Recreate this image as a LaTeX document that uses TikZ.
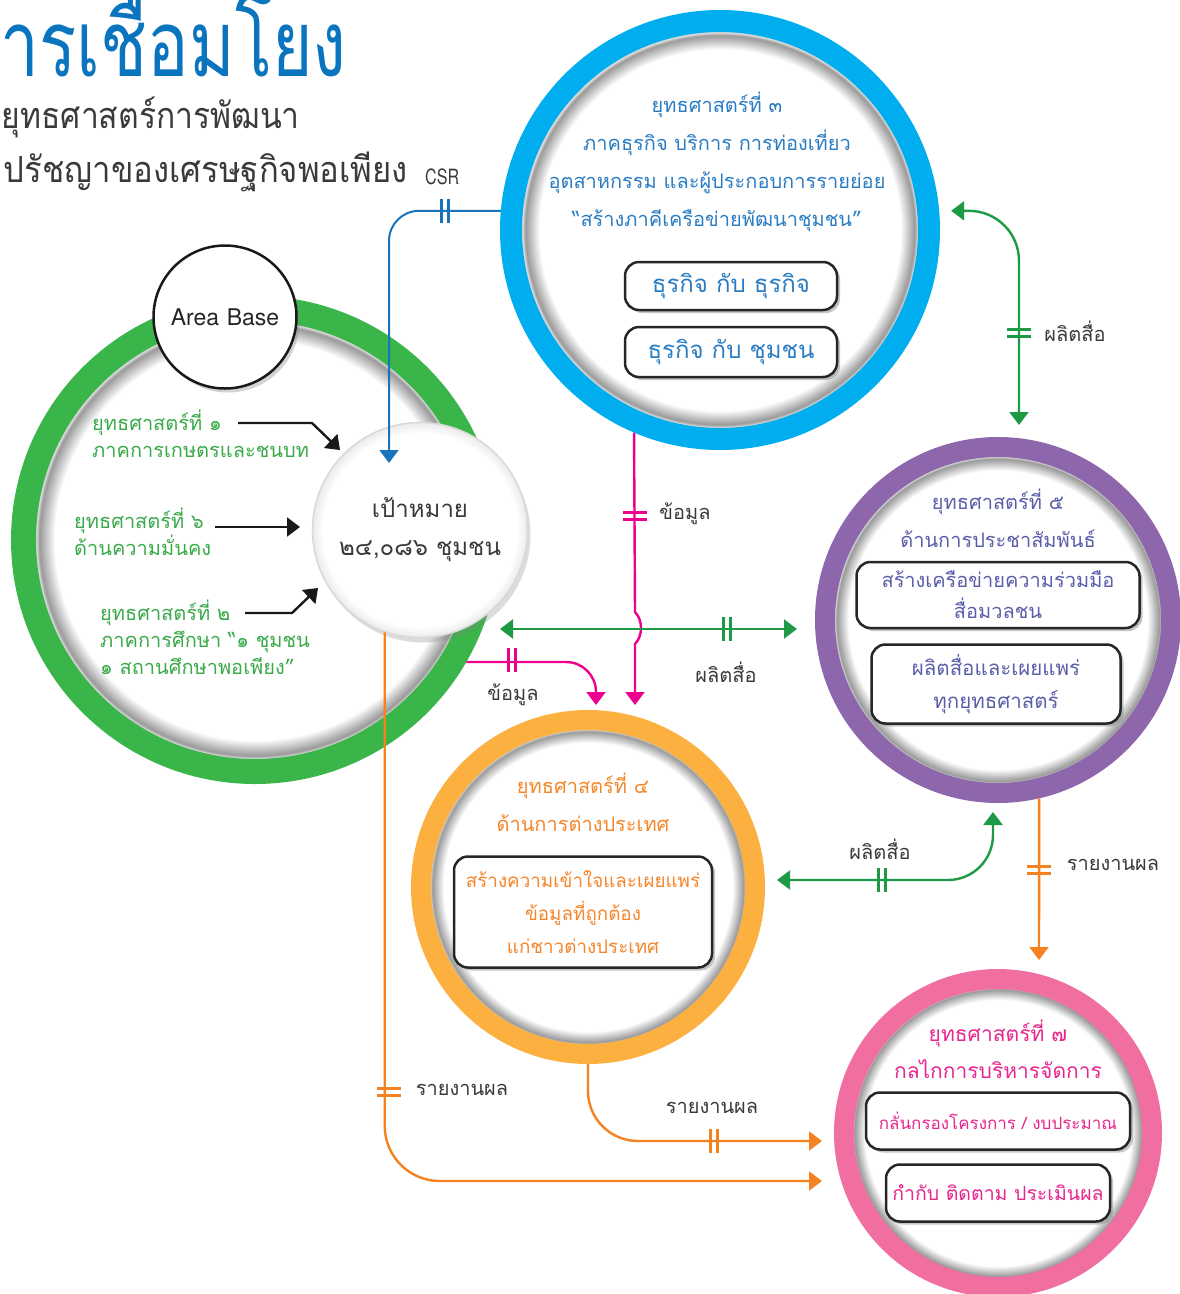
\documentclass[tikz,border=0pt]{standalone}
\usepackage{fontspec}
\usetikzlibrary{arrows.meta,shadows,calc}
\newfontfamily\thai[Script=Thai]{Loma}
\newfontfamily\heros{TeX Gyre Heros}
\definecolor{cgreen}{HTML}{3AB54A}
\definecolor{cgreenarr}{HTML}{1E9A47}
\definecolor{cgreentxt}{HTML}{3AAA4A}
\definecolor{cblue}{HTML}{00AEEF}
\definecolor{cbluetxt}{HTML}{2B7DC3}
\definecolor{cblueln}{HTML}{1873BA}
\definecolor{ctitle}{HTML}{0A74BE}
\definecolor{cpurple}{HTML}{8E66AC}
\definecolor{cpurpletxt}{HTML}{5B5EA9}
\definecolor{corange}{HTML}{FBB040}
\definecolor{corangetxt}{HTML}{F5862A}
\definecolor{corangeln}{HTML}{F58220}
\definecolor{cpink}{HTML}{F06EA0}
\definecolor{cpinktxt}{HTML}{E8268F}
\definecolor{cpinkln}{HTML}{EC008C}
\definecolor{cgraytxt}{HTML}{3A3A3A}
\pgfdeclareradialshading{vign}{\pgfpoint{0bp}{0bp}}{color(0bp)=(white); color(21.6bp)=(white); color(23.3bp)=(black!40); color(23.6bp)=(black!15); color(25bp)=(black!15); color(50bp)=(black!15)}
\pgfdeclareradialshading{tgtshade}{\pgfpoint{0bp}{0bp}}{color(0bp)=(white); color(22.5bp)=(white); color(25bp)=(black!8); color(50bp)=(black!8)}
\tikzset{
  ring/.style={circle, inner sep=0pt, shading=vign},
  th/.style={font=\thai\fontsize{20}{#1}\selectfont, align=center, inner sep=0pt},
  th/.default=38,
  lbl/.style={font=\thai\fontsize{20}{24}\selectfont, text=cgraytxt, inner sep=0pt},
  gtxt/.style={font=\thai\fontsize{20}{27}\selectfont, text=cgreentxt, align=left, anchor=west, inner sep=0pt},
  boxx/.style={draw=black!85, line width=2.5pt, rounded corners=14pt, fill=white, inner sep=0pt,
    drop shadow={opacity=0.45, shadow xshift=3pt, shadow yshift=-3pt}},
  conn/.style={line width=2.4pt},
  arr/.style={-{Triangle[width=19pt,length=13pt]}},
  darr/.style={{Triangle[width=19pt,length=13pt]}-{Triangle[width=19pt,length=13pt]}},
  vbars/.pic={\draw[line width=2.4pt] (-3.5,-12)--(-3.5,12) (3.5,-12)--(3.5,12);},
  hbars/.pic={\draw[line width=2.4pt] (-12,-3.5)--(12,-3.5) (-12,3.5)--(12,3.5);},
}
\begin{document}
\begin{tikzpicture}[x=1pt,y=-1pt]
\useasboundingbox (0,0) rectangle (1180,1294);
\clip (0,0) rectangle (1180,1294);
% title
\node[font=\thai\fontsize{92}{92}\selectfont, text=ctitle, anchor=base east, inner sep=0pt, text depth=0pt] (title) at (347,76) {\resizebox{388pt}{\height}{การเชื่อมโยง}};
\node[font=\thai\fontsize{36}{36}\selectfont, text=cgraytxt, anchor=east, inner sep=0pt] (sub1) at (300,117) {\resizebox{298pt}{\height}{ยุทธศาสตร์การพัฒนา}};
\node[font=\thai\fontsize{36}{36}\selectfont, text=cgraytxt, anchor=east, inner sep=0pt] (sub2) at (408,172) {\resizebox{404pt}{\height}{ปรัชญาของเศรษฐกิจพอเพียง}};
\node[font=\heros\fontsize{21}{21}\selectfont, text=cgraytxt, anchor=west, inner sep=0pt] (csr) at (425,177) {\resizebox{34pt}{\height}{CSR}};

% big circles
\node[ring, draw=cgreen, line width=25pt, minimum size=463pt] (s0) at (255,540) {};
\node[circle, draw=black!90, line width=2.5pt, fill=white, minimum size=143pt, inner sep=0pt,
  drop shadow={opacity=0.35, shadow xshift=3pt, shadow yshift=-4pt},
  font=\heros\fontsize{23}{23}\selectfont, text=black!85] (area) at (225,317) {Area\,\,Base};
\node[circle, draw=black!15, line width=1.5pt, shading=tgtshade, minimum size=215pt, inner sep=0pt,
  drop shadow={opacity=0.28, shadow xshift=3pt, shadow yshift=-5pt}] (tgt) at (420,530) {};
\node[ring, draw=cblue, line width=22pt, minimum size=418pt] (s3) at (720,230) {};
\node[ring, draw=cpurple, line width=20pt, minimum size=346pt] (s5) at (998,620) {};
\node[ring, draw=corange, line width=20pt, minimum size=334pt] (s4) at (588,887) {};
\node[ring, draw=cpink, line width=20pt, minimum size=308pt] (s7) at (998,1133) {};

% target text
\node[font=\thai\fontsize{24}{38}\selectfont, text=cgraytxt, align=center, inner sep=0pt] (tgttxt) at (420,530) {เป้าหมาย\\๒๔,๐๘๖ ชุมชน};

% green texts
\node[gtxt] (g1) at (92,434) {ยุทธศาสตร์ที่ ๑\\ภาคการเกษตรและชนบท};
\node[gtxt] (g6) at (74,532) {ยุทธศาสตร์ที่ ๖\\ด้านความมั่นคง};
\node[gtxt] (g2) at (100,637) {ยุทธศาสตร์ที่ ๒\\ภาคการศึกษา “๑ ชุมชน\\๑ สถานศึกษาพอเพียง”};

% blue circle texts
\node[th, text=cbluetxt] (s3t) at (717,162) {ยุทธศาสตร์ที่ ๓\\ภาคธุรกิจ บริการ การท่องเที่ยว\\อุตสาหกรรม และผู้ประกอบการรายย่อย\\“สร้างภาคีเครือข่ายพัฒนาชุมชน”};
\node[boxx, minimum width=212pt, minimum height=48pt, font=\thai\fontsize{24}{28}\selectfont, text=cbluetxt] (b31) at (731,286) {ธุรกิจ กับ ธุรกิจ};
\node[boxx, minimum width=212pt, minimum height=50pt, font=\thai\fontsize{24}{28}\selectfont, text=cbluetxt] (b32) at (731,352) {ธุรกิจ กับ ชุมชน};

% purple
\node[th, text=cpurpletxt] (s5t) at (998,518) {ยุทธศาสตร์ที่ ๕\\ด้านการประชาสัมพันธ์};
\node[boxx, minimum width=283pt, minimum height=66pt, font=\thai\fontsize{20}{31}\selectfont, text=cpurpletxt, align=center] (b51) at (998,595) {สร้างเครือข่ายความร่วมมือ\\สื่อมวลชน};
\node[boxx, minimum width=249pt, minimum height=79pt, font=\thai\fontsize{20.5}{33}\selectfont, text=cpurpletxt, align=center] (b52) at (996,684) {ผลิตสื่อและเผยแพร่\\ทุกยุทธศาสตร์};

% orange
\node[th, text=corangetxt] (s4t) at (583,802) {ยุทธศาสตร์ที่ ๔\\ด้านการต่างประเทศ};
\node[boxx, minimum width=258pt, minimum height=111pt, font=\thai\fontsize{18.8}{33}\selectfont, text=corangetxt, align=center] (b41) at (583,912) {สร้างความเข้าใจและเผยแพร่\\ข้อมูลที่ถูกต้อง\\แก่ชาวต่างประเทศ};

% pink
\node[font=\thai\fontsize{21}{37}\selectfont, text=cpinktxt, align=center, inner sep=0pt] (s7t) at (998,1049) {ยุทธศาสตร์ที่ ๗\\กลไกการบริหารจัดการ};
\node[boxx, minimum width=264pt, minimum height=57pt, font=\thai\fontsize{17}{22}\selectfont, text=cpinktxt] (b71) at (998,1121) {กลั่นกรองโครงการ / งบประมาณ};
\node[boxx, minimum width=224pt, minimum height=57pt, font=\thai\fontsize{19.5}{24}\selectfont, text=cpinktxt] (b72) at (998,1193) {กำกับ ติดตาม ประเมินผล};

% free-end coordinates
\coordinate (bE) at (389,463);
\coordinate (p1E) at (635,705);
\coordinate (p2E) at (596,705);
\coordinate (gL) at (500,629);
\coordinate (gR) at (797,629);
\coordinate (gTA) at ($(s3.5)+(12,0)$);
\coordinate (gTB) at (1019,425);
\coordinate (gBA) at (993,812);
\coordinate (gBB) at (777,880);
\coordinate (oRE) at (1039,960);
\coordinate (o4E) at (822,1141);
\coordinate (oLE) at (822,1181);
\coordinate (k1S) at (238,423);
\coordinate (k1E) at (340,450);
\coordinate (k6S) at (215,527);
\coordinate (k6E) at (300,527);
\coordinate (k2S) at (245,613);
\coordinate (k2E) at (318,588);

% connectors
\draw[conn, cblueln, arr, line width=2pt, rounded corners=30pt] (s3.175) -| (bE);
\pic[color=cblueln] at (445,211) {vbars};

\draw[conn, cpinkln, arr] (s3.247) -- (635,612) .. controls (643,620) and (643,636) .. (635,644) -- (p1E);
\pic[color=cpinkln] at (635,516) {hbars};
\node[lbl] (lp1) at (685,514) {ข้อมูล};

\draw[conn, cgreenarr, darr] (gL) -- (gR);
\pic[color=cgreenarr] at (727,629) {vbars};
\node[lbl] (lg1) at (726,672) {ผลิตสื่อ};

\draw[conn, cpinkln, arr, rounded corners=30pt] (s0.-30) -| (p2E);
\pic[color=cpinkln] at (512,660) {vbars};
\node[lbl] (lp2) at (513,695) {ข้อมูล};

\draw[conn, cgreenarr, darr, rounded corners=50pt] (gTA) -| (gTB);
\pic[color=cgreenarr] at (1019,333) {hbars};
\node[lbl] (lg2) at (1075,331) {ผลิตสื่อ};

\draw[conn, cgreenarr, darr, rounded corners=45pt] (gBA) |- (gBB);
\pic[color=cgreenarr] at (882,880) {vbars};
\node[lbl] (lg3) at (880,849) {ผลิตสื่อ};

\draw[conn, corangeln, arr] (s5.283) -- (oRE);
\pic[color=corangeln] at (1039,870) {hbars};
\node[lbl] (lo1) at (1113,865) {รายงานผล};

\draw[conn, corangeln, arr, rounded corners=50pt] (s4.south) |- (o4E);
\pic[color=corangeln] at (714,1141) {vbars};
\node[lbl] (lo2) at (712,1108) {รายงานผล};

\draw[conn, corangeln, arr, rounded corners=55pt] (tgt.251) |- (oLE);
\pic[color=corangeln] at (389,1092) {hbars};
\node[lbl] (lo3) at (462,1090) {รายงานผล};

% black arrows
\draw[conn, black!90, arr] (k1S) -- (312,423) -- (k1E);
\draw[conn, black!90, arr] (k6S) -- (k6E);
\draw[conn, black!90, arr] (k2S) -- (292,613) -- (k2E);
\end{tikzpicture}
\end{document}
